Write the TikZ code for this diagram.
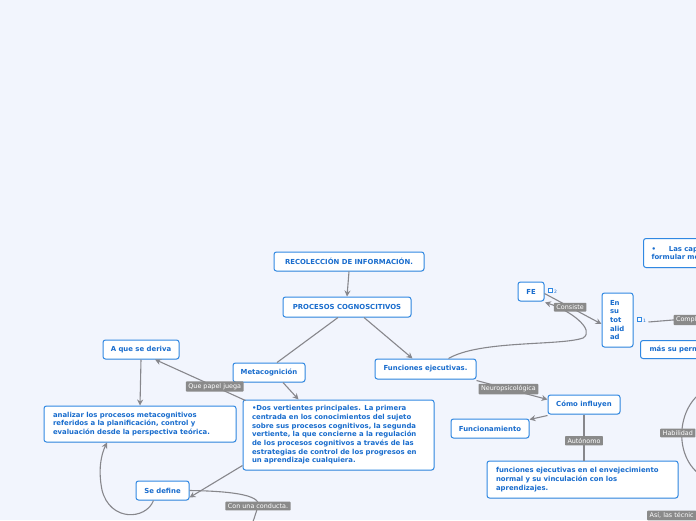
\documentclass[tikz,border=0pt]{standalone}
\usepackage{fontspec}
\newfontfamily\dvs{DejaVu Sans}
\usetikzlibrary{arrows.meta,shadows}
\definecolor{bg}{RGB}{242,245,253}
\definecolor{txtblue}{RGB}{24,108,205}
\definecolor{bordblue}{RGB}{48,136,226}
\definecolor{conn}{RGB}{135,135,140}
\definecolor{labgray}{RGB}{138,138,138}
\tikzset{
  box/.style={draw=bordblue, line width=1pt, rounded corners=2.5pt, fill=white,
    text=txtblue, font=\dvs\bfseries\fontsize{6.9}{8.7}\selectfont, inner sep=0pt, align=center,
    drop shadow={opacity=0.12, shadow xshift=0.6pt, shadow yshift=-0.8pt}},
  mbox/.style={box, align=left, inner xsep=9pt},
  lab/.style={fill=labgray, text=white, font=\dvs\fontsize{6.4}{7}\selectfont, inner xsep=2.5pt,
    inner ysep=2pt, rounded corners=0.8pt},
  con/.style={draw=conn, line width=1.1pt},
  arr/.style={con, -{Stealth[length=6pt,width=6pt]}},
  ico/.style={draw=bordblue, line width=0.5pt, fill=white, minimum size=4pt, inner sep=0pt},
  iconum/.style={text=txtblue, font=\dvs\fontsize{4.5}{5}\selectfont, inner sep=0pt}
}
\begin{document}
\begin{tikzpicture}[x=1pt,y=-1pt]
\useasboundingbox (0,0) rectangle (696,520);
\clip (0,0) rectangle (696,520);
\fill[bg] (0,0) rectangle (696,520);

% coordinates for connector ends
\coordinate (condEnd) at (250,530);
\coordinate (complEnd) at (720,321);
\coordinate (habA) at (702,392);
\coordinate (habB) at (702,476);

% nodes
\node[box, minimum width=150pt, minimum height=19pt] (rec) at (349,261.5) {RECOLECCIÓN DE INFORMACIÓN.};
\node[box, minimum width=128pt, minimum height=20pt] (proc) at (347,307) {PROCESOS COGNOSCITIVOS};
\node[box, minimum width=76pt, minimum height=19pt] (deriva) at (141,349.5) {A que se deriva};
\node[box, minimum width=72pt, minimum height=19pt] (meta) at (269,372.5) {Metacognición};
\node[box, minimum width=101pt, minimum height=20pt] (fe) at (425.5,369) {Funciones ejecutivas.};
\node[mbox, text width=174pt, minimum height=36pt] (anal) at (140,424)
  {analizar los procesos metacognitivos\\referidos a la planificación, control y\\evaluación desde la perspectiva teórica.};
\node[mbox, text width=173pt, minimum height=70pt] (dos) at (338.5,435)
  {•Dos vertientes principales. La primera\\centrada en los conocimientos del sujeto\\sobre sus procesos cognitivos, la segunda\\vertiente, la que concierne a la regulación\\de los procesos cognitivos a través de las\\estrategias de control de los progresos en\\un aprendizaje cualquiera.};
\node[box, minimum width=53pt, minimum height=19pt] (sedef) at (162.5,490.5) {Se define};
\node[box, minimum width=26pt, minimum height=19pt] (FE) at (531,291.5) {FE};
\node[mbox, inner xsep=8pt, text width=15pt, minimum height=54pt] (ensu) at (617.5,320) {En\\su\\tot\\alid\\ad};
\node[mbox, anchor=north west, inner xsep=8pt, text width=110pt, minimum height=29pt] (lascap) at (643,238)
  {•\hspace{13pt}Las cap\\formular me};
\node[mbox, anchor=north west, text width=100pt, minimum height=18pt] (mas) at (640,340) {más su perm};
\node[box, minimum width=72pt, minimum height=19pt] (como) at (584,404.5) {Cómo influyen};
\node[box, minimum width=78pt, minimum height=19pt] (func) at (490,428.5) {Funcionamiento};
\node[mbox, text width=173pt, minimum height=37pt] (envej) at (582.5,479.5)
  {funciones ejecutivas en el envejecimiento\\normal y su vinculación con los\\aprendizajes.};

% connectors
\draw[arr] (rec.south) -- (proc.north);
\draw[con] ([xshift=-9pt]proc.south) -- ([xshift=8pt]meta.north);
\draw[arr] ([xshift=17pt]proc.south) -- ([xshift=-13pt]fe.north);
\draw[arr] ([xshift=14pt]meta.south) -- ([xshift=-40pt]dos.north);
\draw[arr] ([xshift=3pt,yshift=-1pt]dos.north west) -- node[lab, pos=0.34]{Que papel juega} ([xshift=14pt]deriva.south);
\draw[arr] (deriva.south) -- (anal.north);
\draw[arr] ([yshift=5pt]dos.south west) -- ([yshift=-7pt]sedef.east);
\draw[arr] ([xshift=-9pt]sedef.south) .. controls (146,520) and (110,522) .. (102,490)
  .. controls (98,470) and (101,455) .. ([xshift=-33pt]anal.south);
\draw[con] (sedef.east) .. controls (225,491) and (262,494) .. (258,506) node[lab, pos=1]{Con una conducta.}
  .. controls (256,513) and (253,522) .. (condEnd);
\draw[arr] ([xshift=23pt]fe.north) .. controls (480,340) and (560,346) .. (583,338)
  .. controls (596,330) and (570,310) .. ([xshift=14pt,yshift=-1pt]FE.south);
\draw[arr] ([yshift=-2pt]FE.east) -- node[lab, pos=0.45]{Consiste} ([yshift=-4pt]ensu.west);
\draw[con] ([xshift=15pt,yshift=-2pt]ensu.east) -- (673,320) node[lab, anchor=west]{Compl} -- (complEnd);
\draw[arr] ([yshift=-1pt]fe.south east) -- node[lab, pos=0.45]{Neuropsicológica} ([yshift=-5pt]como.north west);
\draw[arr] ([yshift=-1pt]como.south west) -- ([yshift=-1pt]func.north east);
\draw[con] (como.south) -- node[lab, pos=0.57]{Autónomo} (como.south |- envej.north);
\draw[con] (habA) .. controls (676,410) and (674,458) .. (habB);
\node[lab, anchor=west] (hab) at (660,433) {Habilidad};
\node[lab, anchor=west] (asi) at (647,515.5) {Así, las técnic};

% icons
\node[ico] (ic2) at (550.5,290.5) {};
\node[iconum, anchor=west] (n2) at (554,292) {2};
\node[ico] (ic1) at (639.5,319.5) {};
\node[iconum, anchor=west] (n1) at (643,320.5) {1};
\end{tikzpicture}
\end{document}
